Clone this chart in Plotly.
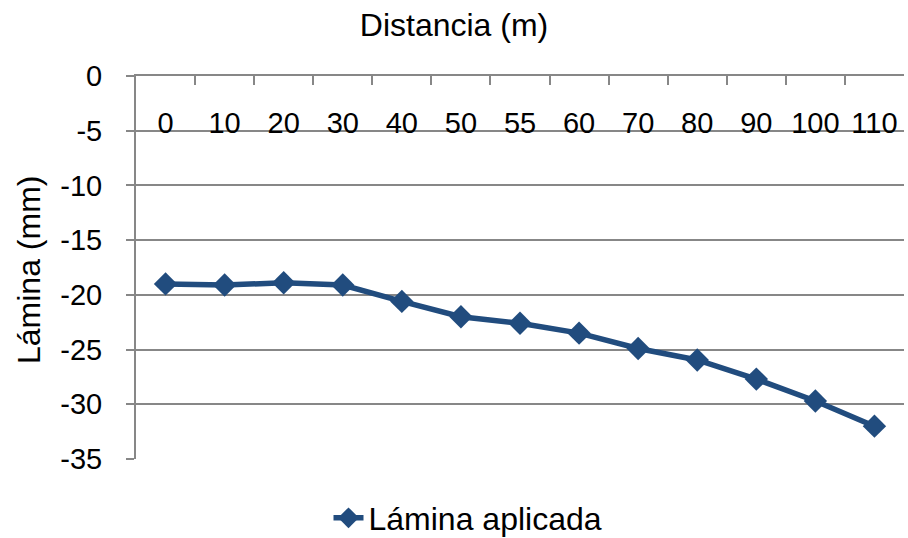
import plotly.graph_objects as go

distancia = ["0", "10", "20", "30", "40", "50", "55", "60", "70", "80", "90", "100", "110"]
lamina = [-19.0, -19.1, -18.9, -19.1, -20.6, -22.0, -22.6, -23.5, -24.9, -25.95, -27.7, -29.7, -32.0]
serie_nombre = "Lámina aplicada"
y_ticks = [0, -5, -10, -15, -20, -25, -30, -35]

FONT = "Liberation Sans, Arial, sans-serif"
BLUE = "#214C7E"
GRAY = "#878787"
TICK_SIZE = 29
TITLE_SIZE = 32
x_range = [-0.5, len(distancia) - 0.5]

fig = go.Figure()
fig.add_trace(go.Scatter(
    x=distancia, y=lamina, name=serie_nombre, mode="lines+markers",
    line=dict(color=BLUE, width=5.5),
    marker=dict(symbol="diamond", size=18, color=BLUE),
    showlegend=True,
))
# invisible helper trace carrying the category labels on the label axis
fig.add_trace(go.Scatter(
    x=distancia, y=lamina, xaxis="x2", mode="lines",
    line=dict(width=0, color="rgba(0,0,0,0)"), showlegend=False, hoverinfo="skip",
))

fig.update_layout(
    width=908, height=538,
    margin=dict(l=136, r=4, t=76, b=79),
    paper_bgcolor="white", plot_bgcolor="white",
    font=dict(family=FONT, size=TICK_SIZE, color="black"),
    title=dict(text="Distancia (m)", x=0.5, xref="container", xanchor="center",
               y=1 - 25 / 538, yref="container", yanchor="middle",
               font=dict(family=FONT, size=TITLE_SIZE, color="black")),
    xaxis=dict(
        type="category", side="top", range=x_range, showline=True, linecolor=GRAY, linewidth=2,
        ticks="inside", ticklen=9, tickcolor=GRAY, tickwidth=2, tickson="boundaries",
        showticklabels=False, showgrid=False, zeroline=False,
    ),
    xaxis2=dict(
        type="category", side="top", overlaying="x", matches="x", anchor="free",
        position=1 - (139 - 76) / 383, showline=False, ticks="", showgrid=False,
        zeroline=False, tickangle=0,
        tickfont=dict(family=FONT, size=TICK_SIZE, color="black"),
    ),
    yaxis=dict(
        range=[-35, 0], tickvals=y_ticks, ticktext=[str(v) for v in y_ticks],
        showline=True, linecolor=GRAY, linewidth=2,
        ticks="outside", ticklen=8, tickcolor=GRAY, tickwidth=2,
        ticklabelstandoff=18,
        showgrid=True, gridcolor=GRAY, gridwidth=2, zeroline=False,
        tickfont=dict(family=FONT, size=TICK_SIZE, color="black"),
    ),
    legend=dict(orientation="h", xref="container", x=468 / 908, xanchor="center",
                yref="container", y=1 - 518 / 538, yanchor="middle",
                font=dict(family=FONT, size=TITLE_SIZE, color="black"),
                bgcolor="rgba(0,0,0,0)"),
    annotations=[dict(text="Lámina (mm)", textangle=-90, xref="paper", yref="paper",
                      x=-(136 - 29) / 768, y=1 - (270 - 76) / 383, xanchor="center", yanchor="middle",
                      showarrow=False, font=dict(family=FONT, size=TITLE_SIZE, color="black"))],
)

fig.write_html("out.html")
